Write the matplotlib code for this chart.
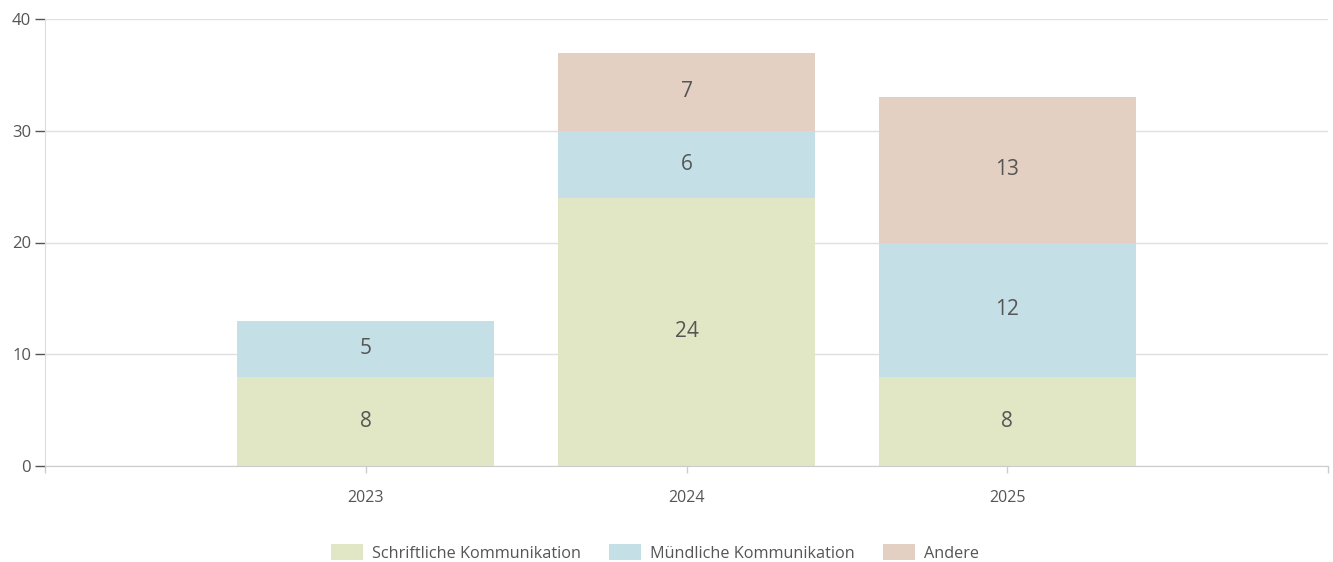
import matplotlib

matplotlib.use("Agg")
import matplotlib.pyplot as plt
from matplotlib.patches import Patch

plt.rcParams["font.family"] = ["Open Sans", "DejaVu Sans"]

years = ["2023", "2024", "2025"]
schriftlich = [8, 24, 8]
muendlich = [5, 6, 12]
andere = [0, 7, 13]

series = [
    ("Schriftliche Kommunikation", schriftlich, "#e1e6c4"),
    ("Mündliche Kommunikation", muendlich, "#c4e0e6"),
    ("Andere", andere, "#e4d0c2"),
]

text_color = "#555555"
fig = plt.figure(figsize=(13.33, 5.62), dpi=100)
ax = fig.add_axes([45 / 1333, 1 - 466 / 562, 1283 / 1333, 447 / 562])

x = [1, 2, 3]
bottom = [0, 0, 0]
for label, values, color in series:
    ax.bar(x, values, width=0.8, bottom=bottom, color=color, zorder=2)
    for xi, b, v in zip(x, bottom, values):
        if v > 0:
            ax.text(xi, b + v / 2, str(v), ha="center", va="center",
                    fontsize=15, color=text_color, zorder=3)
    bottom = [b + v for b, v in zip(bottom, values)]

ax.set_xlim(0, 4)
ax.set_ylim(0, 40)
ax.set_yticks([0, 10, 20, 30, 40])
ax.set_xticks([0, 1, 2, 3, 4])
ax.set_xticklabels(["", *years, ""])
ax.grid(axis="y", color="#e0e0e0", linewidth=1, zorder=0)

for side in ["top", "right"]:
    ax.spines[side].set_visible(False)
ax.spines["left"].set_color("#dddddd")
ax.spines["bottom"].set_color("#cccccc")
ax.tick_params(axis="y", length=7, width=1, color="#555555", labelsize=12,
               labelcolor=text_color, pad=3)
ax.tick_params(axis="x", length=5, width=1, color="#cccccc", labelsize=11.5,
               labelcolor=text_color, pad=12)

handles = [Patch(facecolor=c, edgecolor="none") for _, _, c in series]
fig.legend(handles, [s[0] for s in series], loc="center", bbox_to_anchor=(655 / 1333, 1 - 553 / 562),
           ncol=3, frameon=False, fontsize=11.7, handlelength=2.0, handleheight=1.05,
           columnspacing=1.7, handletextpad=0.55, labelcolor=text_color)

fig.savefig("out.png", dpi=100)
